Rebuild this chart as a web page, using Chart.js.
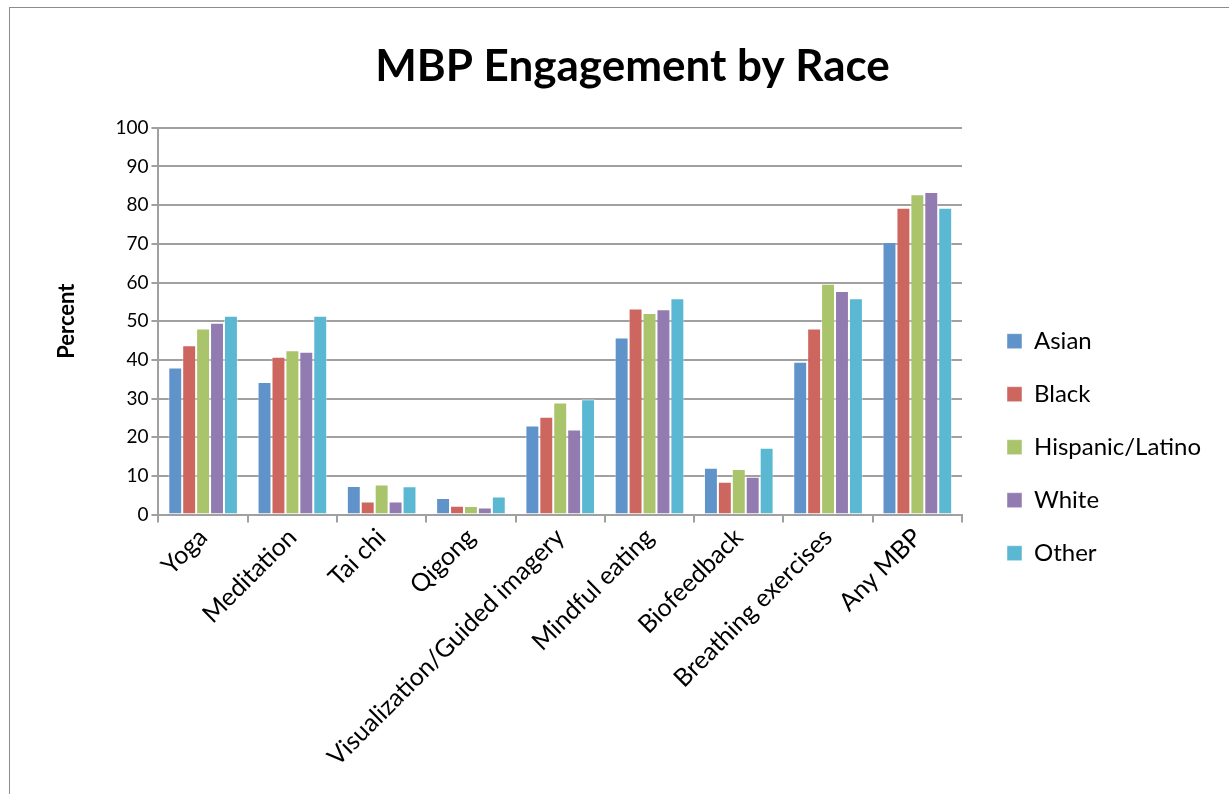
<!DOCTYPE html>
<html>
<head>
<meta charset="utf-8">
<title>MBP Engagement by Race</title>
<script src="https://cdn.jsdelivr.net/npm/chart.js@4.4.1/dist/chart.umd.min.js"></script>
<style>
  html, body { margin: 0; padding: 0; background: #fff; overflow: hidden; }
  #wrap { position: relative; width: 1229px; height: 794px; }
  #frame { position: absolute; left: 9px; top: 7px; width: 1240px; height: 800px; border: 1.5px solid #8c8c8c; box-sizing: border-box; pointer-events: none; }
  canvas { position: absolute; left: 0; top: 0; }
</style>
</head>
<body>
<div id="wrap">
  <canvas id="mbpChart" width="1229" height="794"></canvas>
  <div id="frame"></div>
</div>
<script>
const categories = ['Yoga', 'Meditation', 'Tai chi', 'Qigong', 'Visualization/Guided imagery',
  'Mindful eating', 'Biofeedback', 'Breathing exercises', 'Any MBP'];

const asian    = [38.0, 34.3, 7.4, 4.3, 23.0, 45.8, 12.1, 39.5, 70.5];
const black    = [43.8, 40.8, 3.4, 2.3, 25.3, 53.3, 8.5, 48.1, 79.3];
const hispanic = [48.1, 42.5, 7.8, 2.2, 29.0, 52.1, 11.8, 59.7, 82.8];
const white    = [49.6, 42.1, 3.4, 1.8, 22.0, 53.1, 9.8, 57.8, 83.4];
const other    = [51.4, 51.4, 7.3, 4.7, 29.8, 55.9, 17.3, 55.9, 79.3];

const seriesNames = ['Asian', 'Black', 'Hispanic/Latino', 'White', 'Other'];
const seriesColors = ['#5f93c9', '#cd665f', '#a9c46b', '#927bb0', '#5bb8d2'];

const FONT = 'Lato, "Liberation Sans", sans-serif';
const GRID = '#a0a0a0';

const ctx = document.getElementById('mbpChart');

new Chart(ctx, {
  type: 'bar',
  data: {
    labels: categories,
    datasets: [asian, black, hispanic, white, other].map((vals, i) => ({
      label: seriesNames[i],
      data: vals,
      backgroundColor: seriesColors[i],
      borderColor: 'rgba(255,255,255,0.45)',
      borderWidth: 1,
      barPercentage: 1.0,
      categoryPercentage: 0.78
    }))
  },
  options: {
    responsive: false,
    animation: false,
    layout: { padding: { left: 54, right: 18, top: 30, bottom: 22 } },
    plugins: {
      title: {
        display: true,
        text: 'MBP Engagement by Race',
        color: '#000',
        font: { family: FONT, size: 44, weight: 'bold' },
        padding: { top: 10, bottom: 35 }
      },
      legend: {
        position: 'right',
        maxWidth: 400,
        // empty legend title only pushes the entries down
        title: { display: true, text: ' ', font: { size: 12 }, padding: { top: 78, bottom: 0 } },
        labels: {
          color: '#000',
          font: { family: FONT, size: 24 },
          boxWidth: 15,
          boxHeight: 15,
          padding: 29
        }
      },
      tooltip: { enabled: false }
    },
    scales: {
      x: {
        grid: { display: true, drawOnChartArea: false, color: GRID, lineWidth: 2, tickLength: 8, offset: true },
        border: { color: GRID, width: 2 },
        ticks: {
          color: '#000',
          font: { family: FONT, size: 25 },
          minRotation: 45,
          maxRotation: 45,
          autoSkip: false,
          padding: 0
        }
      },
      y: {
        min: 0,
        max: 100,
        ticks: {
          stepSize: 10,
          color: '#000',
          font: { family: FONT, size: 19 },
          padding: 3
        },
        grid: { color: GRID, lineWidth: 2, tickLength: 7 },
        border: { color: GRID, width: 2 },
        title: {
          display: true,
          text: 'Percent',
          color: '#000',
          font: { family: FONT, size: 22, weight: 'bold' },
          padding: { top: 0, bottom: 32 }
        }
      },
      // blank strip between the plot and the legend
      gap: {
        type: 'linear',
        position: 'right',
        display: true,
        grid: { display: false },
        border: { display: false },
        ticks: { display: false },
        afterFit: (scale) => { scale.width = 16; }
      }
    }
  }
});
</script>
</body>
</html>
